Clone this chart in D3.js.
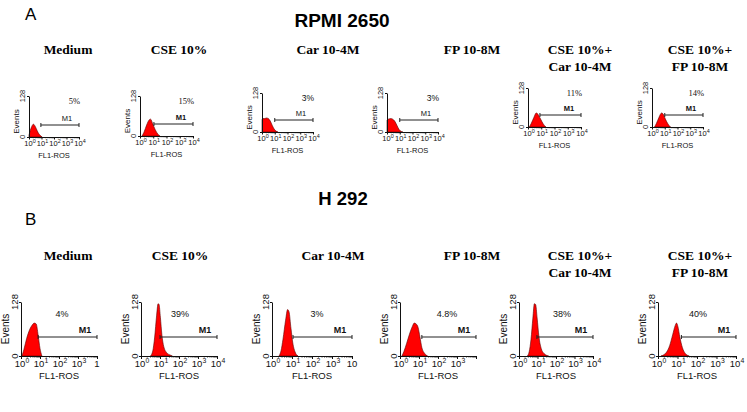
<!DOCTYPE html>
<html>
<head>
<meta charset="utf-8">
<script src="https://cdn.jsdelivr.net/npm/d3@7"></script>
<style>
body { margin: 0; background: #fff; }
svg { display: block; }
</style>
</head>
<body>
<div id="chart"></div>
<script>
// panel titles, same order in both rows
var titles = [["Medium"], ["CSE 10%"], ["Car 10-4M"], ["FP 10-8M"], ["CSE 10%+", "Car 10-4M"], ["CSE 10%+", "FP 10-8M"]];

var pctA = ["5%", "15%", "3%", "3%", "11%", "14%"];
var pctB = ["4%", "39%", "3%", "4.8%", "38%", "40%"];

// start of the M1 gate, in decades (gate runs to 10^4)
var gateA = [0.95, 1.05, 1.0, 1.0, 0.9, 1.0];
var gateB = [0.9, 1.0, 1.05, 1.15, 0.97, 1.2];

var decades = [0, 1, 2, 3, 4];
var yTicks = [0, 128];
// some bottom panels are cut off at the right in the original
var lastTickB = ["1", null, "10", "", null, null];

// histograms: [log10 FL1-ROS, events]
var histA1 = [[0, 6], [0.1, 20], [0.22, 33], [0.35, 40], [0.5, 33], [0.65, 20], [0.8, 9], [0.95, 3], [1.05, 0]];
var histA2 = [[0.15, 0], [0.3, 12], [0.5, 35], [0.7, 52], [0.8, 54], [0.95, 40], [1.15, 20], [1.35, 6], [1.5, 0]];
var histA3 = [[0, 40], [0.05, 44], [0.2, 44], [0.35, 46], [0.5, 44], [0.65, 36], [0.8, 22], [0.95, 10], [1.1, 3], [1.25, 0]];
var histA4 = [[0, 38], [0.1, 42], [0.3, 44], [0.45, 42], [0.6, 36], [0.8, 20], [0.95, 8], [1.1, 2], [1.25, 0]];
var histA5 = [[0.1, 0], [0.25, 12], [0.45, 32], [0.62, 46], [0.75, 42], [0.95, 26], [1.15, 10], [1.35, 0]];
var histA6 = [[0.2, 0], [0.35, 12], [0.55, 32], [0.75, 46], [0.88, 42], [1.05, 26], [1.25, 10], [1.45, 0]];

var histB1 = [[0.05, 0], [0.15, 15], [0.3, 42], [0.45, 62], [0.6, 74], [0.7, 78], [0.8, 76], [0.9, 50], [1.0, 18], [1.1, 0]];
var histB2 = [[0.5, 0], [0.62, 12], [0.72, 45], [0.82, 95], [0.9, 124], [0.95, 122], [1.02, 92], [1.1, 50], [1.2, 22], [1.35, 8], [1.55, 2], [1.65, 0]];
var histB3 = [[0.35, 0], [0.45, 12], [0.55, 40], [0.68, 85], [0.78, 110], [0.85, 105], [0.95, 65], [1.05, 28], [1.15, 10], [1.3, 0]];
var histB4 = [[0.1, 0], [0.2, 10], [0.35, 30], [0.5, 52], [0.65, 70], [0.75, 78], [0.85, 76], [0.95, 68], [1.05, 45], [1.15, 20], [1.3, 6], [1.45, 0]];
var histB5 = [[0.45, 0], [0.55, 10], [0.65, 40], [0.75, 90], [0.83, 124], [0.9, 122], [0.98, 90], [1.08, 45], [1.2, 18], [1.35, 6], [1.6, 0]];
var histB6 = [[0.15, 0], [0.3, 3], [0.45, 10], [0.6, 25], [0.75, 50], [0.88, 72], [0.95, 78], [1.02, 70], [1.12, 45], [1.25, 20], [1.4, 6], [1.6, 0]];

var histA = [histA1, histA2, histA3, histA4, histA5, histA6];
var histB = [histB1, histB2, histB3, histB4, histB5, histB6];

var width = 747, height = 412;
var serif = "'Liberation Serif', 'Times New Roman', serif";
var sans = "'Liberation Sans', Arial, sans-serif";
var ink = "#111";

// where each small plot sits
var layoutA = [
    { x0: 29, x1: 79, top: 96, base: 137, tx: 68 },
    { x0: 140, x1: 193, top: 96, base: 136, tx: 179 },
    { x0: 262, x1: 313, top: 93, base: 132, tx: 328 },
    { x0: 387, x1: 438, top: 93, base: 132, tx: 472 },
    { x0: 528, x1: 581, top: 88, base: 127, tx: 580 },
    { x0: 652, x1: 703, top: 88, base: 127, tx: 700 }
];
var layoutB = [
    { x0: 21, x1: 97, px: 62, tx: 68 },
    { x0: 141, x1: 217, px: 180, tx: 180 },
    { x0: 272, x1: 352, px: 317, tx: 333 },
    { x0: 400, x1: 476, px: 447, tx: 472 },
    { x0: 519, x1: 593, px: 562, tx: 580 },
    { x0: 658, x1: 736, px: 698, tx: 700 }
];
layoutB.forEach(function (l) { l.top = 302; l.base = 356; });

var svg = d3.select("#chart")
    .append("svg")
    .attr("width", width)
    .attr("height", height);

// headers
svg.append("text").attr("x", 25).attr("y", 20)
    .style("font-family", sans).style("font-size", "17px").text("A");
svg.append("text").attr("x", 25).attr("y", 225)
    .style("font-family", sans).style("font-size", "17px").text("B");
svg.append("text").attr("x", 342).attr("y", 27).attr("text-anchor", "middle")
    .style("font-family", sans).style("font-size", "19px").style("font-weight", "bold").text("RPMI 2650");
svg.append("text").attr("x", 343).attr("y", 205).attr("text-anchor", "middle")
    .style("font-family", sans).style("font-size", "18.5px").style("font-weight", "bold").text("H 292");

function drawPanel(l, hist, pct, gate, opts, i) {
    var g = svg.append("g");
    var x = d3.scaleLinear().domain([0, 4]).range([l.x0, l.x1]);
    var y = d3.scaleLinear().domain([0, 128]).range([l.base, l.top]);
    var fs = opts.fs;

    // title
    var t = g.append("text")
        .attr("text-anchor", "middle")
        .style("font-family", serif).style("font-size", "13.5px").style("font-weight", "bold");
    titles[i].forEach(function (line, k) {
        t.append("tspan").attr("x", l.tx).attr("y", opts.titleY + k * 17).text(line);
    });

    // histogram
    g.append("path")
        .datum(hist)
        .attr("fill", "#ff0000")
        .attr("stroke", "#5a0000")
        .attr("stroke-width", 0.6)
        .attr("d", d3.area()
            .x(function (d) { return x(d[0]); })
            .y0(l.base)
            .y1(function (d) { return y(d[1]); })
            .curve(d3.curveMonotoneX));

    // axes
    var minor = [];
    decades.slice(0, 4).forEach(function (dcd) {
        for (var k = 2; k < 10; k++) minor.push(dcd + Math.log10(k));
    });
    g.append("g")
        .attr("transform", "translate(0," + l.base + ")")
        .call(d3.axisBottom(x).tickValues(minor).tickSize(opts.minor).tickFormat("").tickSizeOuter(0))
        .call(function (a) { a.select(".domain").remove(); a.selectAll("line").attr("stroke", "#333"); });
    g.append("g")
        .attr("transform", "translate(0," + l.base + ")")
        .call(d3.axisBottom(x).tickValues(decades).tickSize(opts.major).tickFormat("").tickSizeOuter(0))
        .call(function (a) { a.selectAll("path,line").attr("stroke", ink); });
    g.append("g")
        .attr("transform", "translate(" + l.x0 + ",0)")
        .call(d3.axisLeft(y).tickValues(yTicks).tickSize(2).tickFormat("").tickSizeOuter(0))
        .call(function (a) { a.selectAll("path,line").attr("stroke", ink); });

    // decade labels with superscripts
    decades.forEach(function (dcd, k) {
        var override = (k == 4 && opts.last) ? opts.last[i] : null;
        if (override === "") return;
        var lab = g.append("text")
            .attr("x", x(dcd) + (override ? 0 : 1))
            .attr("y", l.base + opts.tickDy)
            .attr("text-anchor", "middle")
            .style("font-family", sans).style("font-size", fs + "px").attr("fill", ink);
        if (override) { lab.text(override); return; }
        lab.append("tspan").text("10");
        lab.append("tspan").attr("dy", -fs * 0.4).style("font-size", (fs * 0.72) + "px").text(dcd);
    });

    g.append("text")
        .attr("x", (l.x0 + l.x1) / 2)
        .attr("y", l.base + opts.labDy)
        .attr("text-anchor", "middle")
        .style("font-family", sans).style("font-size", opts.labFs + "px").attr("fill", ink)
        .text("FL1-ROS");

    // y labels, rotated
    yTicks.forEach(function (v) {
        g.append("text")
            .attr("transform", "translate(" + (l.x0 - opts.yNumOff) + "," + y(v) + ") rotate(-90)")
            .attr("text-anchor", "middle")
            .style("font-family", sans).style("font-size", opts.labFs + "px").attr("fill", ink)
            .text(v);
    });
    g.append("text")
        .attr("transform", "translate(" + (l.x0 - opts.evOff) + "," + ((l.top + l.base) / 2 + opts.evDy) + ") rotate(-90)")
        .attr("text-anchor", "middle")
        .style("font-family", sans).style("font-size", opts.evFs + "px").attr("fill", ink)
        .text("Events");

    // M1 gate
    var gy = l.base - opts.gateUp;
    var gx0 = x(gate), gx1 = x(4);
    g.append("path")
        .attr("d", "M" + gx0 + "," + (gy - 2) + "V" + (gy + 2) + "M" + gx0 + "," + gy + "H" + gx1 +
            "M" + gx1 + "," + (gy - 2) + "V" + (gy + 2))
        .attr("stroke", "#222").attr("stroke-width", 1).attr("fill", "none");
    g.append("text")
        .attr("x", opts.m1x(l))
        .attr("y", gy - opts.m1Up)
        .attr("text-anchor", "middle")
        .style("font-family", sans).style("font-size", opts.m1Fs + "px")
        .style("font-weight", opts.m1Bold[i] ? "bold" : "normal").attr("fill", ink)
        .text("M1");

    // percent
    g.append("text")
        .attr("x", opts.pctX(l))
        .attr("y", opts.pctY(l))
        .attr("text-anchor", opts.pctAnchor)
        .style("font-family", opts.pctSerif[i] ? serif : sans)
        .style("font-size", opts.pctFs + "px").attr("fill", ink)
        .text(pct);
}

var optsA = {
    titleY: 54, fs: 7.5, labFs: 7.5, evFs: 8, major: 2.5, minor: 1.2, tickDy: 9, labDy: 21,
    yNumOff: 4, evOff: 10, evDy: 5, gateUp: 12, m1Up: 4, m1Fs: 7.5,
    m1Bold: [false, true, false, false, true, true],
    m1x: function (l) { return l.x1 - 12; },
    pctX: function (l) { return l.x1 + 1; },
    pctY: function (l) { return l.top + 8; },
    pctAnchor: "end", pctFs: 8.5,
    pctSerif: [true, true, false, false, true, true]
};
var optsB = {
    titleY: 260, fs: 9.5, labFs: 9.5, evFs: 10, major: 3, minor: 1.5, tickDy: 11, labDy: 23,
    yNumOff: 3, evOff: 12.5, evDy: 0, gateUp: 19, m1Up: 4, m1Fs: 9,
    m1Bold: [true, true, true, true, true, true],
    m1x: function (l) { return l.x1 - 12; },
    pctX: function (l) { return l.px; },
    pctY: function (l) { return l.top + 15; },
    pctAnchor: "middle", pctFs: 9,
    pctSerif: [false, false, false, false, false, false],
    last: lastTickB
};

layoutA.forEach(function (l, i) { drawPanel(l, histA[i], pctA[i], gateA[i], optsA, i); });
layoutB.forEach(function (l, i) { drawPanel(l, histB[i], pctB[i], gateB[i], optsB, i); });
</script>
</body>
</html>
